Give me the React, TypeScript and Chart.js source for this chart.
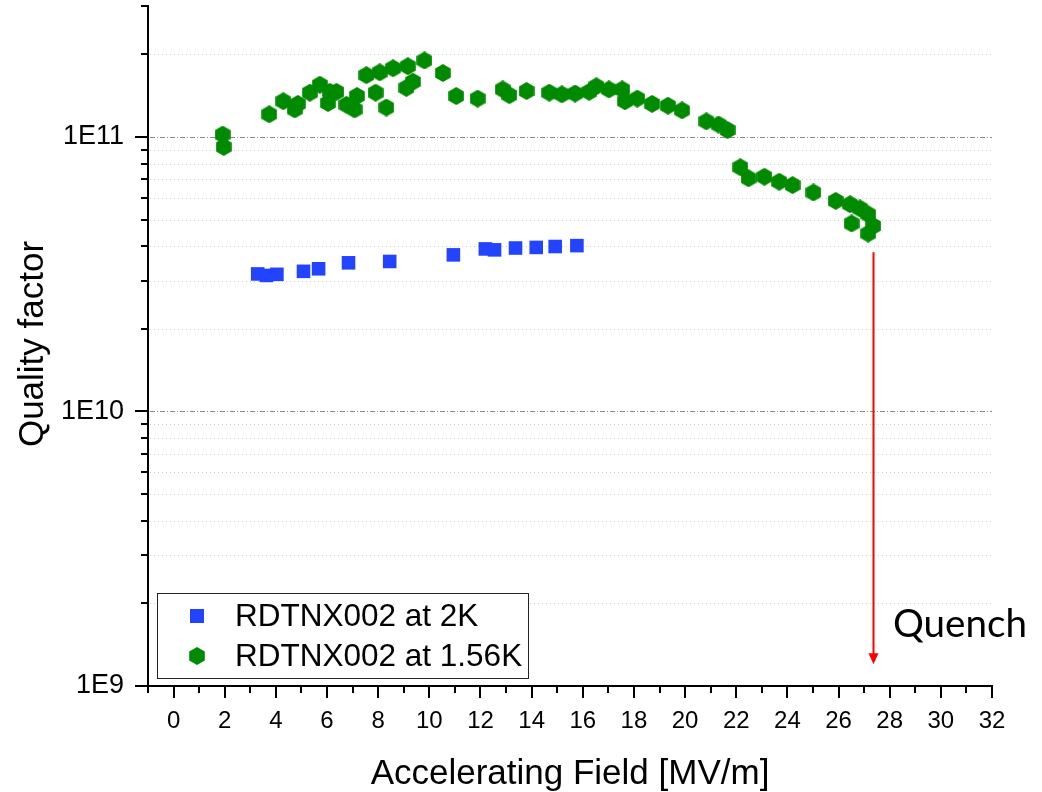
import React, { useEffect, useRef } from 'react';
import { Chart, registerables } from 'chart.js';

Chart.register(...registerables);

// ---- data ----
const seriesNames = ['RDTNX002 at 2K', 'RDTNX002 at 1.56K'];

const fieldAt2K = [3.29, 3.63, 4.04, 5.08, 5.67, 6.84, 8.45, 10.94, 12.19, 12.55, 13.37, 14.18, 14.92, 15.77];
const q0At2K = [3.17e10, 3.13e10, 3.16e10, 3.24e10, 3.31e10, 3.48e10, 3.52e10, 3.72e10, 3.91e10, 3.88e10, 3.94e10, 3.96e10, 3.99e10, 4.02e10];

const fieldAt156K = [
  1.92, 1.96, 3.74, 4.29, 4.74, 4.86, 5.33, 5.72, 6.04, 6.11, 6.37, 6.76, 7.08, 7.17, 7.54,
  7.9, 8.06, 8.32, 8.58, 9.16, 9.36, 9.1, 9.81, 10.53, 11.05, 11.89, 12.87, 13.13, 13.8, 14.69,
  15.18, 15.7, 16.25, 16.53, 17.02, 17.54, 17.65, 18.13, 18.71, 19.33, 19.88, 20.83, 21.31, 21.66, 22.16,
  22.48, 23.1, 23.68, 24.2, 25.02, 25.89, 26.45, 26.84, 27.16, 26.51, 27.36, 27.16,
];
const q0At156K = [
  1.02e11, 9.2e10, 1.21e11, 1.35e11, 1.26e11, 1.32e11, 1.45e11, 1.55e11, 1.33e11, 1.46e11, 1.46e11, 1.31e11, 1.26e11, 1.41e11, 1.68e11,
  1.45e11, 1.72e11, 1.28e11, 1.78e11, 1.81e11, 1.59e11, 1.51e11, 1.9e11, 1.71e11, 1.41e11, 1.38e11, 1.49e11, 1.42e11, 1.47e11, 1.45e11,
  1.43e11, 1.44e11, 1.46e11, 1.53e11, 1.49e11, 1.49e11, 1.35e11, 1.38e11, 1.32e11, 1.3e11, 1.25e11, 1.14e11, 1.11e11, 1.06e11, 7.76e10,
  7.07e10, 7.16e10, 6.87e10, 6.68e10, 6.28e10, 5.85e10, 5.69e10, 5.49e10, 5.23e10, 4.84e10, 4.74e10, 4.45e10,
];

const yMajorTicks = [1e9, 1e10, 1e11];
const yTickLabels = ['1E9', '1E10', '1E11'];
const yMin = 1e9;
const yMax = 3e11;
const xMin = -1;
const xMax = 32;

const quenchLabel = 'Quench';
const quenchField = 27.36;
const quenchFrom = 3.8e10;
const quenchTo = 1.2e9;

const xTitle = 'Accelerating Field [MV/m]';
const yTitle = 'Quality factor';

const BLUE = '#2243ff';
const GREEN = '#008a00';
const SANS = '"Liberation Sans", Arial, sans-serif';

function makeHex(): HTMLCanvasElement {
  const c = document.createElement('canvas');
  c.width = 16;
  c.height = 18;
  const g = c.getContext('2d')!;
  g.fillStyle = GREEN;
  g.beginPath();
  const r = 9;
  for (let k = 0; k < 6; k++) {
    const a = -Math.PI / 2 + (k * Math.PI) / 3;
    const px = 8 + r * Math.cos(a);
    const py = 9 + r * Math.sin(a);
    if (k === 0) g.moveTo(px, py);
    else g.lineTo(px, py);
  }
  g.closePath();
  g.fill();
  return c;
}

function allYTicks(): number[] {
  const out: number[] = [];
  for (const m of yMajorTicks) {
    for (let k = 1; k <= 9; k++) {
      const v = m * k;
      if (v <= yMax * 1.0001) out.push(v);
    }
  }
  return out;
}

function isMajorY(v: number) {
  return yMajorTicks.some((m) => Math.abs(v - m) / m < 1e-6);
}

export default function App() {
  const ref = useRef<HTMLCanvasElement | null>(null);

  useEffect(() => {
    if (!ref.current) return;
    const hex = makeHex();
    const yTicks = allYTicks();

    const decor = {
      id: 'decor',
      beforeDatasetsDraw(chart: any) {
        const { ctx, chartArea: a, scales } = chart;
        const y = scales.y;
        ctx.save();
        ctx.lineWidth = 1;
        for (const v of yTicks) {
          if (Math.abs(v - yMin) < 1 || v >= yMax * 0.999) continue;
          const py = Math.round(y.getPixelForValue(v)) + 0.5;
          const major = isMajorY(v);
          ctx.strokeStyle = major ? '#8a8a8a' : '#cccccc';
          ctx.setLineDash(major ? [5, 2, 1, 2] : [1, 3]);
          ctx.beginPath();
          ctx.moveTo(a.left + 2, py);
          ctx.lineTo(a.right, py);
          ctx.stroke();
        }
        ctx.restore();
      },
      afterDraw(chart: any) {
        const { ctx, chartArea: a, scales } = chart;
        const x = scales.x;
        const y = scales.y;
        ctx.save();
        ctx.setLineDash([]);
        ctx.strokeStyle = '#000';
        ctx.lineWidth = 2;
        // y ticks
        for (const v of yTicks) {
          const py = Math.round(y.getPixelForValue(v));
          const len = isMajorY(v) ? 13 : 7;
          ctx.beginPath();
          ctx.moveTo(a.left - len, py);
          ctx.lineTo(a.left, py);
          ctx.stroke();
        }
        // x ticks
        for (let v = xMin; v <= xMax; v++) {
          const px = Math.round(x.getPixelForValue(v));
          const len = v % 2 === 0 ? 12 : 7;
          ctx.beginPath();
          ctx.moveTo(px, a.bottom);
          ctx.lineTo(px, a.bottom + len);
          ctx.stroke();
        }

        // legend
        const lx = 157, ly = 593, lw = 371, lh = 85;
        ctx.fillStyle = '#fff';
        ctx.fillRect(lx, ly, lw, lh);
        ctx.lineWidth = 1;
        ctx.strokeStyle = '#222';
        ctx.strokeRect(lx + 0.5, ly + 0.5, lw, lh);
        ctx.fillStyle = BLUE;
        ctx.fillRect(190, 609, 14, 14);
        ctx.drawImage(hex, 197 - 8, 656 - 9);
        ctx.fillStyle = '#000';
        ctx.font = `31.5px ${SANS}`;
        ctx.textAlign = 'left';
        ctx.textBaseline = 'middle';
        ctx.fillText(seriesNames[0], 235, 617);
        ctx.fillText(seriesNames[1], 235, 657);

        // quench arrow
        const qx = Math.round(x.getPixelForValue(quenchField)) + 0.5;
        const qy0 = y.getPixelForValue(quenchFrom);
        const qy1 = y.getPixelForValue(quenchTo);
        ctx.strokeStyle = '#ff0000';
        ctx.fillStyle = '#ff0000';
        ctx.lineWidth = 2;
        ctx.beginPath();
        ctx.moveTo(qx, qy0);
        ctx.lineTo(qx, qy1 - 10);
        ctx.stroke();
        ctx.beginPath();
        ctx.moveTo(qx - 5, qy1 - 11);
        ctx.lineTo(qx + 5, qy1 - 11);
        ctx.lineTo(qx, qy1);
        ctx.closePath();
        ctx.fill();

        ctx.fillStyle = '#000';
        ctx.font = `35px Lato, "Open Sans", sans-serif`;
        const w0 = ctx.measureText(quenchLabel).width || 134;
        const qs = (35 * 134) / w0;
        ctx.font = `${qs.toFixed(1)}px Lato, "Open Sans", sans-serif`;
        ctx.textAlign = 'left';
        ctx.textBaseline = 'alphabetic';
        ctx.fillText(quenchLabel, 893, 637);

        // axis titles
        ctx.fillStyle = '#000';
        ctx.font = `35px ${SANS}`;
        ctx.textAlign = 'center';
        ctx.textBaseline = 'middle';
        ctx.fillText(xTitle, 570, 774);
        ctx.save();
        ctx.translate(33, 344);
        ctx.rotate(-Math.PI / 2);
        ctx.fillText(yTitle, 0, 0);
        ctx.restore();
        ctx.restore();
      },
    };

    const chart = new Chart(ref.current, {
      type: 'scatter',
      data: {
        datasets: [
          {
            label: seriesNames[0],
            data: fieldAt2K.map((f, i) => ({ x: f, y: q0At2K[i] })),
            pointStyle: 'rect',
            pointRadius: 9.6,
            pointBorderWidth: 0,
            backgroundColor: BLUE,
            borderColor: BLUE,
          },
          {
            label: seriesNames[1],
            data: fieldAt156K.map((f, i) => ({ x: f, y: q0At156K[i] })),
            pointStyle: hex as any,
            pointRadius: 9,
            backgroundColor: GREEN,
            borderColor: GREEN,
          },
        ],
      },
      options: {
        responsive: false,
        animation: false,
        events: [],
        layout: { autoPadding: false, padding: { left: 0, top: 6, right: 50, bottom: 0 } },
        plugins: { legend: { display: false }, tooltip: { enabled: false } },
        scales: {
          x: {
            type: 'linear',
            min: xMin,
            max: xMax,
            grid: { display: true, drawOnChartArea: false, drawTicks: false, tickLength: 0 },
            border: { display: true, color: '#000', width: 2 },
            ticks: {
              stepSize: 1,
              autoSkip: false,
              maxRotation: 0,
              padding: 21,
              color: '#000',
              font: { family: SANS, size: 24 },
              callback: (v: any) => (v >= 0 && v % 2 === 0 ? String(v) : null),
            },
            afterFit: (s: any) => {
              s.height = 106;
              s.paddingLeft = 0;
              s.paddingRight = 0;
            },
          },
          y: {
            type: 'logarithmic',
            min: yMin,
            max: yMax,
            grid: { display: true, drawOnChartArea: false, drawTicks: false, tickLength: 0 },
            border: { display: true, color: '#000', width: 2 },
            afterBuildTicks: (s: any) => {
              s.ticks = yTicks.map((v) => ({ value: v }));
            },
            ticks: {
              autoSkip: false,
              padding: 24,
              color: '#000',
              font: { family: SANS, size: 27 },
              callback: (v: any) => {
                const i = yMajorTicks.findIndex((m) => Math.abs(v - m) / m < 1e-6);
                return i >= 0 ? yTickLabels[i] : null;
              },
            },
            afterFit: (s: any) => {
              s.width = 148;
              s.paddingTop = 0;
              s.paddingBottom = 0;
            },
          },
        },
      },
      plugins: [decor],
    } as any);

    return () => chart.destroy();
  }, []);

  return (
    <div style={{ position: 'fixed', left: 0, top: 0, width: 1042, height: 792, background: '#fff' }}>
      <canvas ref={ref} width={1042} height={792} style={{ display: 'block' }} />
    </div>
  );
}
